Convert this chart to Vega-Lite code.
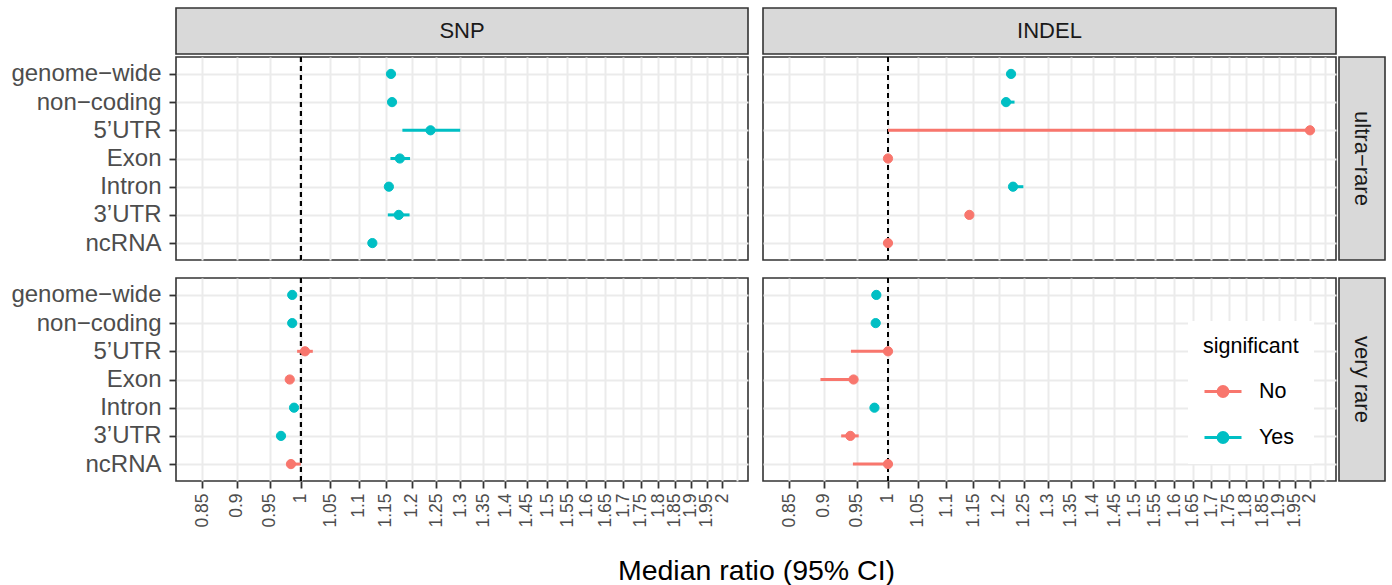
{
  "$schema": "https://vega.github.io/schema/vega-lite/v6.json",
  "padding": {"left": 10, "top": 7, "right": 4, "bottom": 4},
  "background": "white",
  "spacing": 14,
  "config": {
    "font": "Liberation Sans",
    "view": {"stroke": "#333333", "strokeWidth": 1.6},
    "axis": {"grid": true, "gridColor": "#EBEBEB", "gridWidth": 2, "tickColor": "#333333", "tickWidth": 1.8, "domain": false, "labelColor": "#4D4D4D", "labelOverlap": false},
    "text": {"color": "#1A1A1A"}
  },
  "datasets": {
    "ci": [
      {"type": "SNP", "rarity": "ultra−rare", "region": "genome−wide", "median": 1.160, "lo": 1.156, "hi": 1.164, "significant": "Yes"},
      {"type": "SNP", "rarity": "ultra−rare", "region": "non−coding", "median": 1.162, "lo": 1.158, "hi": 1.166, "significant": "Yes"},
      {"type": "SNP", "rarity": "ultra−rare", "region": "5’UTR", "median": 1.238, "lo": 1.182, "hi": 1.300, "significant": "Yes"},
      {"type": "SNP", "rarity": "ultra−rare", "region": "Exon", "median": 1.177, "lo": 1.159, "hi": 1.197, "significant": "Yes"},
      {"type": "SNP", "rarity": "ultra−rare", "region": "Intron", "median": 1.156, "lo": 1.152, "hi": 1.160, "significant": "Yes"},
      {"type": "SNP", "rarity": "ultra−rare", "region": "3’UTR", "median": 1.175, "lo": 1.154, "hi": 1.196, "significant": "Yes"},
      {"type": "SNP", "rarity": "ultra−rare", "region": "ncRNA", "median": 1.125, "lo": 1.120, "hi": 1.130, "significant": "Yes"},
      {"type": "INDEL", "rarity": "ultra−rare", "region": "genome−wide", "median": 1.224, "lo": 1.218, "hi": 1.230, "significant": "Yes"},
      {"type": "INDEL", "rarity": "ultra−rare", "region": "non−coding", "median": 1.214, "lo": 1.209, "hi": 1.231, "significant": "Yes"},
      {"type": "INDEL", "rarity": "ultra−rare", "region": "5’UTR", "median": 2.0, "lo": 1.0, "hi": 2.0, "significant": "No"},
      {"type": "INDEL", "rarity": "ultra−rare", "region": "Exon", "median": 1.0, "lo": 1.0, "hi": 1.0, "significant": "No"},
      {"type": "INDEL", "rarity": "ultra−rare", "region": "Intron", "median": 1.228, "lo": 1.222, "hi": 1.249, "significant": "Yes"},
      {"type": "INDEL", "rarity": "ultra−rare", "region": "3’UTR", "median": 1.143, "lo": 1.143, "hi": 1.143, "significant": "No"},
      {"type": "INDEL", "rarity": "ultra−rare", "region": "ncRNA", "median": 1.0, "lo": 1.0, "hi": 1.0, "significant": "No"},
      {"type": "SNP", "rarity": "very rare", "region": "genome−wide", "median": 0.986, "lo": 0.984, "hi": 0.988, "significant": "Yes"},
      {"type": "SNP", "rarity": "very rare", "region": "non−coding", "median": 0.986, "lo": 0.984, "hi": 0.988, "significant": "Yes"},
      {"type": "SNP", "rarity": "very rare", "region": "5’UTR", "median": 1.007, "lo": 0.994, "hi": 1.020, "significant": "No"},
      {"type": "SNP", "rarity": "very rare", "region": "Exon", "median": 0.982, "lo": 0.980, "hi": 0.984, "significant": "No"},
      {"type": "SNP", "rarity": "very rare", "region": "Intron", "median": 0.989, "lo": 0.987, "hi": 0.991, "significant": "Yes"},
      {"type": "SNP", "rarity": "very rare", "region": "3’UTR", "median": 0.968, "lo": 0.966, "hi": 0.970, "significant": "Yes"},
      {"type": "SNP", "rarity": "very rare", "region": "ncRNA", "median": 0.984, "lo": 0.983, "hi": 1.0, "significant": "No"},
      {"type": "INDEL", "rarity": "very rare", "region": "genome−wide", "median": 0.981, "lo": 0.979, "hi": 0.983, "significant": "Yes"},
      {"type": "INDEL", "rarity": "very rare", "region": "non−coding", "median": 0.980, "lo": 0.978, "hi": 0.982, "significant": "Yes"},
      {"type": "INDEL", "rarity": "very rare", "region": "5’UTR", "median": 1.0, "lo": 0.941, "hi": 1.0, "significant": "No"},
      {"type": "INDEL", "rarity": "very rare", "region": "Exon", "median": 0.945, "lo": 0.895, "hi": 0.950, "significant": "No"},
      {"type": "INDEL", "rarity": "very rare", "region": "Intron", "median": 0.978, "lo": 0.976, "hi": 0.980, "significant": "Yes"},
      {"type": "INDEL", "rarity": "very rare", "region": "3’UTR", "median": 0.940, "lo": 0.926, "hi": 0.953, "significant": "No"},
      {"type": "INDEL", "rarity": "very rare", "region": "ncRNA", "median": 1.0, "lo": 0.944, "hi": 1.0, "significant": "No"}
    ],
    "strips": [
      {"strip": "SNP"}, {"strip": "INDEL"}, {"strip": "ultra−rare"}, {"strip": "very rare"}
    ]
  },
  "vconcat": [
    {
      "spacing": 0,
      "vconcat": [
        {
          "spacing": 15,
          "bounds": "flush",
          "hconcat": [
            {"width": 572, "height": 46, "view": {"fill": "#D9D9D9", "stroke": "#333333", "strokeWidth": 1.6}, "data": {"name": "strips"}, "transform": [{"filter": "datum.strip === 'SNP'"}], "mark": {"type": "text", "fontSize": 22, "color": "#1A1A1A"}, "encoding": {"text": {"field": "strip"}}},
            {"width": 573, "height": 46, "view": {"fill": "#D9D9D9", "stroke": "#333333", "strokeWidth": 1.6}, "data": {"name": "strips"}, "transform": [{"filter": "datum.strip === 'INDEL'"}], "mark": {"type": "text", "fontSize": 22, "color": "#1A1A1A"}, "encoding": {"text": {"field": "strip"}}}
          ]
        },
        {
          "spacing": 1,
          "hconcat": [
            {
              "spacing": 15,
              "bounds": "flush",
              "hconcat": [
                {
                  "width": 572, "height": 203,
                  "data": {"name": "ci"},
                  "transform": [{"filter": "datum.type === 'SNP' && datum.rarity === 'ultra−rare'"}],
                  "layer": [
                    {"mark": {"type": "rule", "strokeDash": [5, 4], "color": "#000000", "strokeWidth": 1.6}, "encoding": {"x": {"datum": 1, "type": "quantitative", "scale": {"type": "log", "domain": [0.8144, 2.0873], "nice": false, "zero": false}, "axis": {"grid": true, "values": [0.85,0.9,0.95,1,1.05,1.1,1.15,1.2,1.25,1.3,1.35,1.4,1.45,1.5,1.55,1.6,1.65,1.7,1.75,1.8,1.85,1.9,1.95,2,2.05], "labels": false, "ticks": false, "tickSize": 0, "labelPadding": 0, "minExtent": 0, "maxExtent": 0, "title": null}}}},
                    {"mark": {"type": "rule", "strokeWidth": 3}, "encoding": {
                      "x": {"field": "lo", "type": "quantitative"}, "x2": {"field": "hi"},
                      "y": {"field": "region", "type": "nominal", "sort": ["genome−wide","non−coding","5’UTR","Exon","Intron","3’UTR","ncRNA"], "scale": {"type": "point", "padding": 0.6}, "axis": {"grid": true, "title": null, "labelFontSize": 24, "tickSize": 7, "labelPadding": 8}},
                      "stroke": {"field": "significant", "type": "nominal", "scale": {"domain": ["No","Yes"], "range": ["#F8766D","#00BFC4"]}, "legend": null}}},
                    {"mark": {"type": "point", "filled": true, "opacity": 1, "size": 85, "strokeWidth": 1}, "encoding": {
                      "x": {"field": "median", "type": "quantitative"},
                      "y": {"field": "region", "type": "nominal", "sort": ["genome−wide","non−coding","5’UTR","Exon","Intron","3’UTR","ncRNA"]},
                      "fill": {"field": "significant", "type": "nominal", "scale": {"domain": ["No","Yes"], "range": ["#F8766D","#00BFC4"]}, "legend": null},
                      "stroke": {"field": "significant", "type": "nominal", "legend": null}}}
                  ]
                },
                {
                  "width": 573, "height": 203,
                  "data": {"name": "ci"},
                  "transform": [{"filter": "datum.type === 'INDEL' && datum.rarity === 'ultra−rare'"}],
                  "layer": [
                    {"mark": {"type": "rule", "strokeDash": [5, 4], "color": "#000000", "strokeWidth": 1.6}, "encoding": {"x": {"datum": 1, "type": "quantitative", "scale": {"type": "log", "domain": [0.8144, 2.0873], "nice": false, "zero": false}, "axis": {"grid": true, "values": [0.85,0.9,0.95,1,1.05,1.1,1.15,1.2,1.25,1.3,1.35,1.4,1.45,1.5,1.55,1.6,1.65,1.7,1.75,1.8,1.85,1.9,1.95,2,2.05], "labels": false, "ticks": false, "tickSize": 0, "labelPadding": 0, "minExtent": 0, "maxExtent": 0, "title": null}}}},
                    {"mark": {"type": "rule", "strokeWidth": 3}, "encoding": {
                      "x": {"field": "lo", "type": "quantitative"}, "x2": {"field": "hi"},
                      "y": {"field": "region", "type": "nominal", "sort": ["genome−wide","non−coding","5’UTR","Exon","Intron","3’UTR","ncRNA"], "scale": {"type": "point", "padding": 0.6}, "axis": {"grid": true, "title": null, "labels": false, "ticks": false, "tickSize": 0, "labelPadding": 0, "minExtent": 0, "maxExtent": 0}},
                      "stroke": {"field": "significant", "type": "nominal", "legend": null}}},
                    {"mark": {"type": "point", "filled": true, "opacity": 1, "size": 85, "strokeWidth": 1}, "encoding": {
                      "x": {"field": "median", "type": "quantitative"},
                      "y": {"field": "region", "type": "nominal", "sort": ["genome−wide","non−coding","5’UTR","Exon","Intron","3’UTR","ncRNA"]},
                      "fill": {"field": "significant", "type": "nominal", "legend": null},
                      "stroke": {"field": "significant", "type": "nominal", "legend": null}}}
                  ]
                }
              ]
            },
            {"width": 46, "height": 203, "view": {"fill": "#D9D9D9", "stroke": "#333333", "strokeWidth": 1.6}, "data": {"name": "strips"}, "transform": [{"filter": "datum.strip === 'ultra−rare'"}], "mark": {"type": "text", "fontSize": 22, "angle": 90, "color": "#1A1A1A"}, "encoding": {"text": {"field": "strip"}}}
          ]
        }
      ]
    },
    {
      "spacing": 1,
      "hconcat": [
        {
          "spacing": 15,
          "bounds": "flush",
          "resolve": {"legend": {"fill": "independent", "stroke": "independent"}},
          "hconcat": [
            {
              "width": 572, "height": 203,
              "data": {"name": "ci"},
              "transform": [{"filter": "datum.type === 'SNP' && datum.rarity === 'very rare'"}],
              "layer": [
                {"mark": {"type": "rule", "strokeDash": [5, 4], "color": "#000000", "strokeWidth": 1.6}, "encoding": {"x": {"datum": 1, "type": "quantitative", "scale": {"type": "log", "domain": [0.8144, 2.0873], "nice": false, "zero": false}, "axis": {"grid": true, "values": [0.85,0.9,0.95,1,1.05,1.1,1.15,1.2,1.25,1.3,1.35,1.4,1.45,1.5,1.55,1.6,1.65,1.7,1.75,1.8,1.85,1.9,1.95,2,2.05], "format": "~g", "labelExpr": "datum.value > 2.01 ? '' : datum.label", "labelAngle": -90, "labelFontSize": 17.5, "tickSize": 7, "labelPadding": 5, "tickOpacity": {"condition": {"test": "datum.value > 2.01", "value": 0}, "value": 1}, "title": null}}}},
                {"mark": {"type": "rule", "strokeWidth": 3}, "encoding": {
                  "x": {"field": "lo", "type": "quantitative"}, "x2": {"field": "hi"},
                  "y": {"field": "region", "type": "nominal", "sort": ["genome−wide","non−coding","5’UTR","Exon","Intron","3’UTR","ncRNA"], "scale": {"type": "point", "padding": 0.6}, "axis": {"grid": true, "title": null, "labelFontSize": 24, "tickSize": 7, "labelPadding": 8}},
                  "stroke": {"field": "significant", "type": "nominal", "legend": null}}},
                {"mark": {"type": "point", "filled": true, "opacity": 1, "size": 85, "strokeWidth": 1}, "encoding": {
                  "x": {"field": "median", "type": "quantitative"},
                  "y": {"field": "region", "type": "nominal", "sort": ["genome−wide","non−coding","5’UTR","Exon","Intron","3’UTR","ncRNA"]},
                  "fill": {"field": "significant", "type": "nominal", "legend": null},
                  "stroke": {"field": "significant", "type": "nominal", "legend": null}}}
              ]
            },
            {
              "width": 573, "height": 203,
              "data": {"name": "ci"},
              "transform": [{"filter": "datum.type === 'INDEL' && datum.rarity === 'very rare'"}],
              "layer": [
                {"mark": {"type": "rule", "strokeDash": [5, 4], "color": "#000000", "strokeWidth": 1.6}, "encoding": {"x": {"datum": 1, "type": "quantitative", "scale": {"type": "log", "domain": [0.8144, 2.0873], "nice": false, "zero": false}, "axis": {"grid": true, "values": [0.85,0.9,0.95,1,1.05,1.1,1.15,1.2,1.25,1.3,1.35,1.4,1.45,1.5,1.55,1.6,1.65,1.7,1.75,1.8,1.85,1.9,1.95,2,2.05], "format": "~g", "labelExpr": "datum.value > 2.01 ? '' : datum.label", "labelAngle": -90, "labelFontSize": 17.5, "tickSize": 7, "labelPadding": 5, "tickOpacity": {"condition": {"test": "datum.value > 2.01", "value": 0}, "value": 1}, "title": "Median ratio (95% CI)", "titleFontSize": 28.5, "titleFontWeight": "normal", "titleColor": "#000000", "titleX": -7, "titleY": 98, "titleAlign": "center", "titleBaseline": "alphabetic"}}}},
                {"mark": {"type": "rule", "strokeWidth": 3}, "encoding": {
                  "x": {"field": "lo", "type": "quantitative"}, "x2": {"field": "hi"},
                  "y": {"field": "region", "type": "nominal", "sort": ["genome−wide","non−coding","5’UTR","Exon","Intron","3’UTR","ncRNA"], "scale": {"type": "point", "padding": 0.6}, "axis": {"grid": true, "title": null, "labels": false, "ticks": false, "tickSize": 0, "labelPadding": 0, "minExtent": 0, "maxExtent": 0}},
                  "stroke": {"field": "significant", "type": "nominal"}}},
                {"mark": {"type": "point", "filled": true, "opacity": 1, "size": 85, "strokeWidth": 1}, "encoding": {
                  "x": {"field": "median", "type": "quantitative"},
                  "y": {"field": "region", "type": "nominal", "sort": ["genome−wide","non−coding","5’UTR","Exon","Intron","3’UTR","ncRNA"]},
                  "fill": {"field": "significant", "type": "nominal", "legend": {
                    "title": "significant", "orient": "none", "legendX": 425, "legendY": 43,
                    "fillColor": "white", "padding": 15,
                    "titleFontSize": 21.5, "titleFontWeight": "normal", "titleColor": "#000000", "titlePadding": 14,
                    "labelFontSize": 21.5, "labelColor": "#000000", "labelOffset": 16, "rowPadding": 15,
                    "symbolType": "M-1,0H1M0.27,0A0.27,0.27,0,1,1,-0.27,0A0.27,0.27,0,1,1,0.27,0Z",
                    "symbolSize": 1369, "symbolStrokeWidth": 2.8, "symbolOpacity": 1}},
                  "stroke": {"field": "significant", "type": "nominal", "legend": {
                    "title": "significant", "orient": "none", "legendX": 425, "legendY": 43,
                    "fillColor": "white", "padding": 15,
                    "titleFontSize": 21.5, "titleFontWeight": "normal", "titleColor": "#000000", "titlePadding": 14,
                    "labelFontSize": 21.5, "labelColor": "#000000", "labelOffset": 16, "rowPadding": 15,
                    "symbolType": "M-1,0H1M0.27,0A0.27,0.27,0,1,1,-0.27,0A0.27,0.27,0,1,1,0.27,0Z",
                    "symbolSize": 1369, "symbolStrokeWidth": 2.8, "symbolOpacity": 1}}}}
              ]
            }
          ]
        },
        {"width": 46, "height": 203, "view": {"fill": "#D9D9D9", "stroke": "#333333", "strokeWidth": 1.6}, "data": {"name": "strips"}, "transform": [{"filter": "datum.strip === 'very rare'"}], "mark": {"type": "text", "fontSize": 22, "angle": 90, "color": "#1A1A1A"}, "encoding": {"text": {"field": "strip"}}}
      ]
    }
  ]
}
